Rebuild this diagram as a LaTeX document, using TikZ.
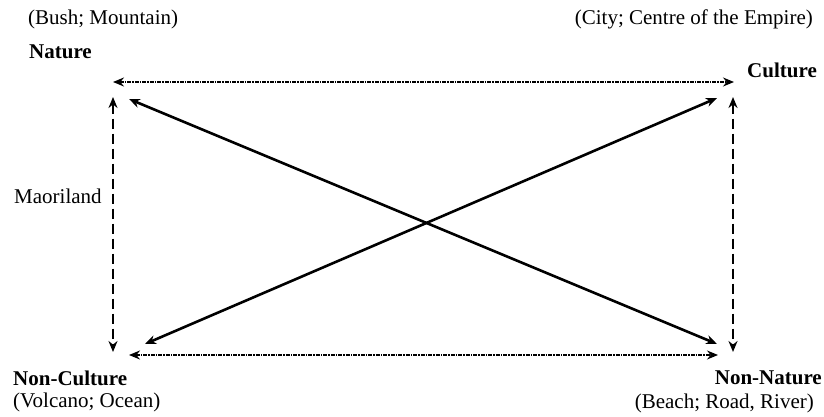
\documentclass[tikz,border=0pt]{standalone}
\usepackage{fontspec}
\setmainfont{Liberation Serif}
\usetikzlibrary{arrows.meta}
\begin{document}
\begin{tikzpicture}[x=1pt,y=-1pt,
  lbl/.style={inner sep=0pt,font=\fontsize{21}{23}\selectfont},
  blbl/.style={lbl,font=\fontsize{21}{23}\selectfont\bfseries},
  tip/.style={{Stealth[length=11pt,width=9pt]}-{Stealth[length=11pt,width=9pt]}},
  hdash/.style={tip,line width=1.6pt,dash pattern=on 4pt off 1pt on 1.5pt off 1pt},
  vdash/.style={tip,line width=2pt,dash pattern=on 10pt off 5pt},
  diag/.style={tip,line width=2.6pt}]
\useasboundingbox (0,0) rectangle (824,417);
% labels
\node[lbl,anchor=west] (bush) at (28,19) {(Bush; Mountain)};
\node[blbl,anchor=west] (nature) at (29,52) {Nature};
\node[lbl,anchor=east] (city) at (813,19) {(City; Centre of the Empire)};
\node[blbl,anchor=west] (culture) at (747,70) {Culture};
\node[lbl,anchor=west] (maori) at (14,196) {Maoriland};
\node[blbl,anchor=west] (noncult) at (13,378) {Non-Culture};
\node[lbl,anchor=west] (volcano) at (13,402) {(Volcano; Ocean)};
\node[blbl,anchor=east] (nonnat) at (822,378) {Non-Nature};
\node[lbl,anchor=east] (beach) at (814,403) {(Beach; Road, River)};
% arrow end points
\coordinate (tl) at (113,82);
\coordinate (tr) at (734,82);
\coordinate (bl) at (129,355);
\coordinate (br) at (718,355);
\coordinate (lt) at (113,97);
\coordinate (lb) at (113,352);
\coordinate (rt) at (733,97);
\coordinate (rb) at (733,352);
\coordinate (d1a) at (129,99);
\coordinate (d1b) at (717,344);
\coordinate (d2a) at (145,344);
\coordinate (d2b) at (717,98);
% arrows
\draw[hdash] (tl) -- (tr);
\draw[hdash] (bl) -- (br);
\draw[vdash] (lt) -- (lb);
\draw[vdash] (rt) -- (rb);
\draw[diag] (d1a) -- (d1b);
\draw[diag] (d2a) -- (d2b);
\end{tikzpicture}
\end{document}
